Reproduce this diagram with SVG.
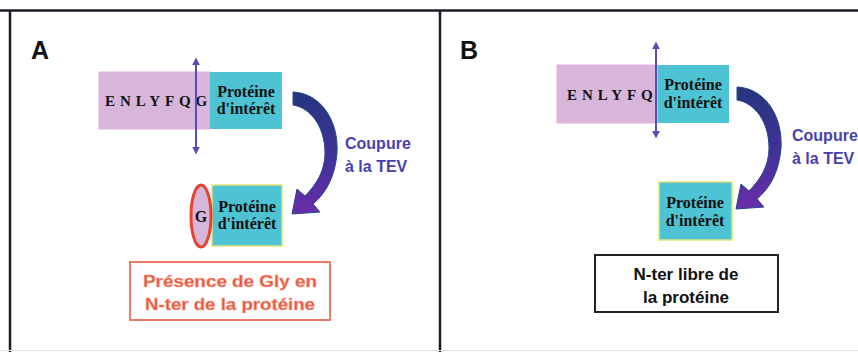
<svg xmlns="http://www.w3.org/2000/svg" width="858" height="352" viewBox="0 0 858 352">
<defs>
<style>
.serif{font-family:"Liberation Serif","Times New Roman",serif;font-weight:bold;fill:#111}
.sans{font-family:"Liberation Sans",Arial,sans-serif;font-weight:bold}
.seq{font-size:15px;letter-spacing:4.9px}
.prot{font-size:16px;text-anchor:middle}
.lbl{font-size:25px;fill:#111}
.cut{font-size:16px;fill:#4a3fae}
.purple{fill:#d8b6dc;stroke:#e6b0e2;stroke-width:1}
.cyan{fill:#4ec3d3}
.cyanY{fill:#4ec3d3;stroke:#e4e27a;stroke-width:1.5}
.dbl{stroke:#5a4cb4;stroke-width:2;fill:none;marker-start:url(#ah);marker-end:url(#ah)}
.frame{stroke:#1b1d24;stroke-width:2.5;fill:none}
</style>
<marker id="ah" viewBox="0 0 10 10" refX="8" refY="5" markerWidth="4" markerHeight="4" orient="auto-start-reverse">
<path d="M0,0 L10,5 L0,10 Z" fill="#5a4cb4"/>
</marker>
<linearGradient id="curveG" x1="0" y1="0" x2="0" y2="1">
<stop offset="0" stop-color="#25357e"/>
<stop offset="0.5" stop-color="#3f3296"/>
<stop offset="1" stop-color="#6a2daa"/>
</linearGradient>
<path id="curve" d="M293,92 C320,93 339,120 337,153 C335,177 326,193 313,204 L320,212 L292,214 L297,189 L305,196 C317,184 325,170 325,153 C325,127 311,108 293,105 Z"/>
</defs>
<rect width="858" height="352" fill="#ffffff"/>
<g id="frames">
<line x1="0" y1="10.5" x2="858" y2="10.5" class="frame"/>
<line x1="10" y1="10" x2="10" y2="352" class="frame"/>
<line x1="440" y1="10" x2="440" y2="352" class="frame" stroke-width="3.5"/>
<line x1="0" y1="350.5" x2="858" y2="350.5" stroke="#e4e4e4" stroke-width="1"/>
</g>
<g id="panelA">
<text class="sans lbl" x="31" y="59">A</text>
<g id="A-fusion">
<rect class="purple" x="99" y="72" width="111" height="57"/>
<rect class="cyan" x="210" y="72" width="72" height="57"/>
<text class="serif seq" x="105" y="106">ENLYFQG</text>
<text class="serif prot" x="246" y="97">Protéine</text>
<text class="serif prot" x="246" y="114">d'intérêt</text>
</g>
<g id="A-product">
<rect class="cyanY" x="212" y="185" width="70" height="61"/>
<ellipse cx="201" cy="216" rx="10" ry="31" fill="#d8b6dc" stroke="#e8432c" stroke-width="3"/>
<text class="serif" x="201" y="222" font-size="16" text-anchor="middle">G</text>
<text class="serif prot" x="247" y="212">Protéine</text>
<text class="serif prot" x="247" y="229">d'intérêt</text>
</g>
<g id="A-note">
<rect x="130" y="262" width="200" height="58" fill="#fff" stroke="#f07a68" stroke-width="2"/>
<text class="sans" x="230" y="287" font-size="17" text-anchor="middle" fill="#e8553a" stroke="#f4a090" stroke-width="0.6" textLength="174" lengthAdjust="spacingAndGlyphs">Présence de Gly en</text>
<text class="sans" x="230" y="310" font-size="17" text-anchor="middle" fill="#e8553a" stroke="#f4a090" stroke-width="0.6" textLength="170" lengthAdjust="spacingAndGlyphs">N-ter de la protéine</text>
</g>
<text class="sans cut" x="345" y="149">Coupure</text>
<text class="sans cut" x="345" y="172">à la TEV</text>
</g>
<g id="panelB">
<text class="sans lbl" x="460" y="59">B</text>
<g id="B-fusion">
<rect class="purple" x="557" y="65" width="101" height="58"/>
<rect class="cyan" x="658" y="65" width="71" height="58"/>
<text class="serif seq" x="567" y="100">ENLYFQ</text>
<text class="serif prot" x="693" y="90">Protéine</text>
<text class="serif prot" x="693" y="108">d'intérêt</text>
</g>
<g id="B-product">
<rect class="cyanY" x="659" y="182" width="73" height="58"/>
<text class="serif prot" x="695" y="208">Protéine</text>
<text class="serif prot" x="695" y="226">d'intérêt</text>
</g>
<g id="B-note">
<rect x="595" y="255" width="183" height="57" fill="#fff" stroke="#222" stroke-width="2"/>
<text class="sans" x="686" y="280" font-size="17" text-anchor="middle" fill="#111">N-ter libre de</text>
<text class="sans" x="686" y="303" font-size="17" text-anchor="middle" fill="#111">la protéine</text>
</g>
<text class="sans cut" x="792" y="141">Coupure</text>
<text class="sans cut" x="792" y="164">à la TEV</text>
</g>
<g id="connectors">
<line class="dbl" x1="196" y1="59" x2="196" y2="153"/>
<line class="dbl" x1="656" y1="43" x2="656" y2="137"/>
<use href="#curve" fill="url(#curveG)" stroke="#24488a" stroke-width="1"/>
<use href="#curve" transform="translate(444,-5)" fill="url(#curveG)" stroke="#24488a" stroke-width="1"/>
</g>
</svg>
